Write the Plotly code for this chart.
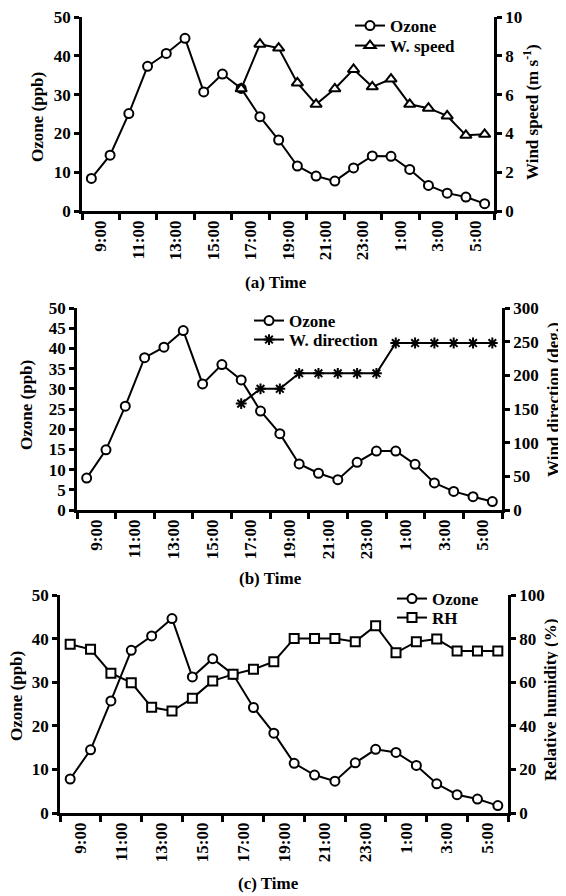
import plotly.graph_objects as go

# ---------------- data ----------------
hours = ["9:00", "10:00", "11:00", "12:00", "13:00", "14:00", "15:00", "16:00",
         "17:00", "18:00", "19:00", "20:00", "21:00", "22:00", "23:00", "0:00",
         "1:00", "2:00", "3:00", "4:00", "5:00", "6:00"]
hour_idx = list(range(len(hours)))
tick_labels = ["9:00", "11:00", "13:00", "15:00", "17:00", "19:00", "21:00",
               "23:00", "1:00", "3:00", "5:00"]

ozone_a = [8.4, 14.4, 25.1, 37.3, 40.6, 44.5, 30.7, 35.3, 31.6, 24.3, 18.3,
           11.6, 9.0, 7.7, 11.1, 14.2, 14.1, 10.7, 6.6, 4.6, 3.6, 1.9]
wind_speed = [None] * 8 + [6.3, 8.6, 8.4, 6.6, 5.5, 6.3, 7.3, 6.4, 6.8, 5.5,
                           5.3, 4.9, 3.9, 3.95]

ozone_b = [7.9, 14.9, 25.7, 37.7, 40.3, 44.4, 31.2, 36.0, 32.2, 24.5, 18.9,
           11.4, 9.1, 7.5, 11.8, 14.6, 14.6, 11.3, 6.7, 4.6, 3.3, 2.1]
wind_dir = [None] * 8 + [158, 180, 180, 203, 203, 203, 203, 203, 248, 248,
                         248, 248, 248, 248]

ozone_c = [7.8, 14.5, 25.7, 37.3, 40.6, 44.6, 31.2, 35.4, 31.8, 24.2, 18.3,
           11.4, 8.7, 7.3, 11.5, 14.6, 13.9, 10.9, 6.7, 4.2, 3.2, 1.7]
rh = [77.4, 75.1, 64.1, 59.8, 48.5, 46.8, 52.6, 60.6, 63.6, 65.9, 69.4,
      80.1, 80.0, 80.0, 78.6, 85.9, 73.5, 78.6, 79.8, 74.3, 74.3, 74.3]

# ---------------- style ----------------
PAGE_OFF = 8                     # default body margin of the html page
W, H = 566 - PAGE_OFF, 896 - PAGE_OFF
FONT = "Liberation Serif"
TICK_FONT = dict(family=FONT, size=17, color="black", weight="bold")
LEG_FONT = dict(family=FONT, size=17, color="black", weight="bold")


def px_x(p):
    return (p - PAGE_OFF) / W


def px_y(p):
    return 1 - (p - PAGE_OFF) / H


def marker(symbol, size=9):
    if symbol.endswith("open"):
        return dict(symbol=symbol, size=size, color="black",
                    line=dict(color="black", width=2))
    return dict(symbol=symbol, size=size, color="white",
                line=dict(color="black", width=2))


LINE = dict(color="black", width=2)

fig = go.Figure()

# panel (a)
fig.add_trace(go.Scatter(x=hour_idx, y=ozone_a, name="Ozone", mode="lines+markers",
                         line=LINE, marker=marker("circle"), xaxis="x", yaxis="y",
                         legend="legend", showlegend=True, cliponaxis=False))
fig.add_trace(go.Scatter(x=hour_idx, y=wind_speed, name="W. speed", mode="lines+markers",
                         line=LINE, marker=marker("triangle-up", 10), xaxis="x", yaxis="y2",
                         legend="legend2", showlegend=True, cliponaxis=False))
# panel (b)
fig.add_trace(go.Scatter(x=hour_idx, y=ozone_b, name="Ozone", mode="lines+markers",
                         line=LINE, marker=marker("circle"), xaxis="x2", yaxis="y3",
                         legend="legend3", showlegend=True, cliponaxis=False))
fig.add_trace(go.Scatter(x=hour_idx, y=wind_dir, name="W. direction", mode="lines+markers",
                         line=LINE, marker=marker("asterisk-open", 9), xaxis="x2", yaxis="y4",
                         legend="legend4", showlegend=True, cliponaxis=False))
# panel (c)
fig.add_trace(go.Scatter(x=hour_idx, y=ozone_c, name="Ozone", mode="lines+markers",
                         line=LINE, marker=marker("circle"), xaxis="x3", yaxis="y5",
                         legend="legend5", showlegend=True, cliponaxis=False))
fig.add_trace(go.Scatter(x=hour_idx, y=rh, name="RH", mode="lines+markers",
                         line=LINE, marker=marker("square", 9), xaxis="x3", yaxis="y6",
                         legend="legend6", showlegend=True, cliponaxis=False))

common = dict(showline=True, linecolor="black", linewidth=2.5, showgrid=False,
              zeroline=False, tickfont=TICK_FONT, automargin=False,
              ticklabeloverflow="allow")
ycommon = dict(common, ticks="outside", ticklen=5, tickwidth=2.5, tickcolor="black")
xcommon = dict(common, range=[-0.5, 21.5], tickmode="array",
               tickvals=[0.5 + 2 * k for k in range(len(tick_labels))],
               ticktext=tick_labels, ticks="", tickangle=-90,
               minor=dict(tickmode="array",
                          tickvals=[-0.5 + 2 * k for k in range(len(tick_labels) + 1)],
                          ticks="outside", ticklen=6, tickwidth=2.5, tickcolor="black",
                          showgrid=False))

LEG_TEXT_OFF = 40   # distance from legend left edge to its text start
LEG_ROW_OFF = 17    # distance from legend top edge to its row centre


def leg(text_x, row_y):
    return dict(x=px_x(text_x - LEG_TEXT_OFF), y=min(1.0, px_y(row_y - LEG_ROW_OFF)),
                xanchor="left", yanchor="top", bgcolor="rgba(0,0,0,0)",
                font=LEG_FONT, itemwidth=30, tracegroupgap=0, visible=True)


fig.update_layout(
    width=W, height=H, margin=dict(l=0, r=0, t=0, b=0, autoexpand=False),
    paper_bgcolor="white", plot_bgcolor="white", showlegend=True,
    font=dict(family=FONT, color="black"),
    xaxis=dict(xcommon, domain=[px_x(82), px_x(494)], anchor="y"),
    yaxis=dict(ycommon, domain=[px_y(211), px_y(17)], range=[0, 50], dtick=10, anchor="x"),
    yaxis2=dict(ycommon, overlaying="y", side="right", anchor="x", range=[0, 10], dtick=2),
    xaxis2=dict(xcommon, domain=[px_x(77), px_x(502)], anchor="y3"),
    yaxis3=dict(ycommon, domain=[px_y(510), px_y(308)], range=[0, 50], dtick=5, anchor="x2"),
    yaxis4=dict(ycommon, overlaying="y3", side="right", anchor="x2", range=[0, 300], dtick=50),
    xaxis3=dict(xcommon, domain=[px_x(60), px_x(508)], anchor="y5"),
    yaxis5=dict(ycommon, domain=[px_y(813), px_y(595)], range=[0, 50], dtick=10, anchor="x3"),
    yaxis6=dict(ycommon, overlaying="y5", side="right", anchor="x3", range=[0, 100], dtick=20),
    legend=leg(390, 25),
    legend2=leg(390, 45),
    legend3=leg(289, 320),
    legend4=leg(289, 339),
    legend5=leg(432, 598),
    legend6=leg(432, 617),
)

TITLE_FONT = dict(family=FONT, size=17, color="black", weight="bold")
annots = [
    ("Ozone (ppb)", 37, 117, -90),
    ("Wind speed (m s<sup>-1</sup>)", 531, 112, -90),
    ("(a) Time", 276, 282, 0),
    ("Ozone (ppb)", 27, 405, -90),
    ("Wind direction (deg.)", 554, 400, -90),
    ("(b) Time", 270, 578, 0),
    ("Ozone (ppb)", 16, 696, -90),
    ("Relative humidity (%)", 550, 700, -90),
    ("(c) Time", 268, 883, 0),
]
for text, ax_, ay_, ang in annots:
    fig.add_annotation(text=text, x=px_x(ax_), y=px_y(ay_), xref="paper", yref="paper",
                       showarrow=False, textangle=ang, font=TITLE_FONT,
                       xanchor="center", yanchor="middle")

fig.write_html("out.html")
